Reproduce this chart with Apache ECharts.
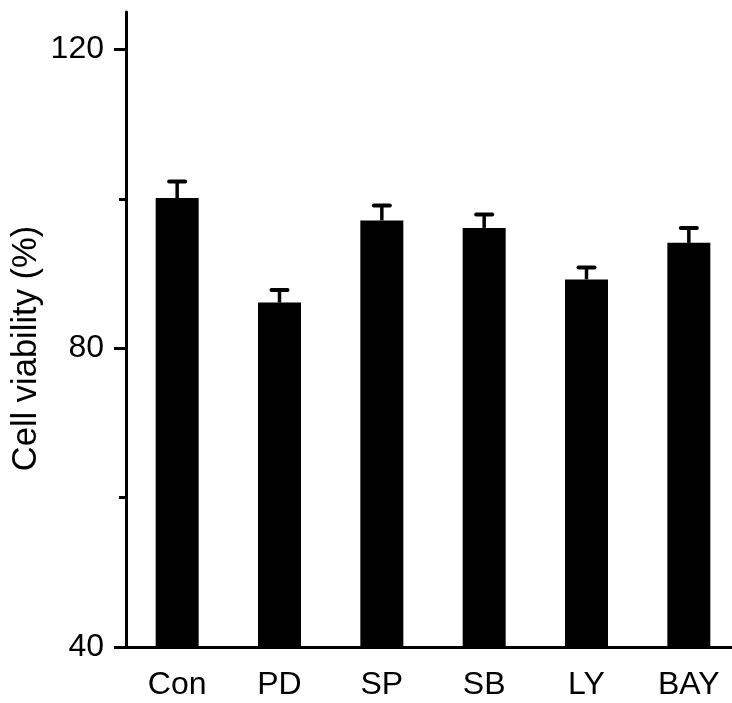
<!DOCTYPE html>
<html>
  <head>
    <title></title>
    <meta charset="UTF-8" />
    <script src="https://cdn.jsdelivr.net/npm/echarts@6/dist/echarts.min.js"></script>
  </head>
  <body style="margin:0">
    <div id="main"></div>
    <script>
      const width = 732;
      const height = 703;
      const main = document.getElementById('main');
      main.style.width = `${width}px`;
      main.style.height = `${height}px`;

      const categories = ['Con', 'PD', 'SP', 'SB', 'LY', 'BAY'];
      const viability = [100.1, 86.1, 97.1, 96.1, 89.2, 94.1];
      const errors = [2.2, 1.7, 2.0, 1.8, 1.6, 2.0];
      const majorTicks = [40, 80, 120];
      const minorTicks = [60, 100];

      const font = 'Liberation Sans';

      const myChart = echarts.init(main);
      const option = {
        animation: false,
        grid: { left: 126, top: 12, bottom: 56, width: 614, outerBoundsMode: 'none' },
        xAxis: {
          type: 'category',
          data: categories,
          axisLine: { lineStyle: { color: '#000', width: 3 } },
          axisTick: {
            alignWithLabel: true,
            length: 12,
            lineStyle: { color: '#000', width: 3 },
          },
          axisLabel: {
            color: '#000',
            fontSize: 32,
            fontFamily: font,
            margin: 22,
          },
        },
        yAxis: [
          {
            type: 'value',
            min: 40,
            max: 125,
            name: 'Cell viability (%)',
            nameLocation: 'middle',
            nameGap: 82,
            nameMoveOverlap: false,
            // the name sits a bit below the middle of the axis
            nameTextStyle: { color: '#000', fontSize: 34.5, fontFamily: font, padding: [0, 38, 0, 0] },
            axisLine: { show: true, lineStyle: { color: '#000', width: 3 } },
            axisTick: {
              show: true,
              length: 12,
              customValues: majorTicks,
              lineStyle: { color: '#000', width: 3 },
            },
            axisLabel: {
              color: '#000',
              fontSize: 32,
              fontFamily: font,
              margin: 22,
              customValues: majorTicks,
            },
            splitLine: { show: false },
          },
          {
            type: 'value',
            min: 40,
            max: 125,
            position: 'left',
            axisLine: { show: false },
            axisTick: {
              show: true,
              length: 7,
              customValues: minorTicks,
              lineStyle: { color: '#000', width: 3 },
            },
            axisLabel: { show: false },
            splitLine: { show: false },
          },
        ],
        series: [
          {
            type: 'bar',
            data: viability,
            barWidth: 43,
            itemStyle: { color: '#000' },
          },
          {
            type: 'custom',
            data: categories.map((c, i) => [i, viability[i], viability[i] + errors[i]]),
            z: 3,
            renderItem: (params, api) => {
              const low = api.coord([api.value(0), api.value(1)]);
              const high = api.coord([api.value(0), api.value(2)]);
              const half = 8;
              const style = { stroke: '#000', lineWidth: 3.5 };
              return {
                type: 'group',
                children: [
                  { type: 'line', shape: { x1: low[0], y1: low[1], x2: high[0], y2: high[1] }, style },
                  { type: 'line', shape: { x1: high[0] - half, y1: high[1], x2: high[0] + half, y2: high[1] }, style: { ...style, lineWidth: 4, lineCap: 'round' } },
                ],
              };
            },
          },
        ],
      };
      myChart.setOption(option);
    </script>
  </body>
</html>
